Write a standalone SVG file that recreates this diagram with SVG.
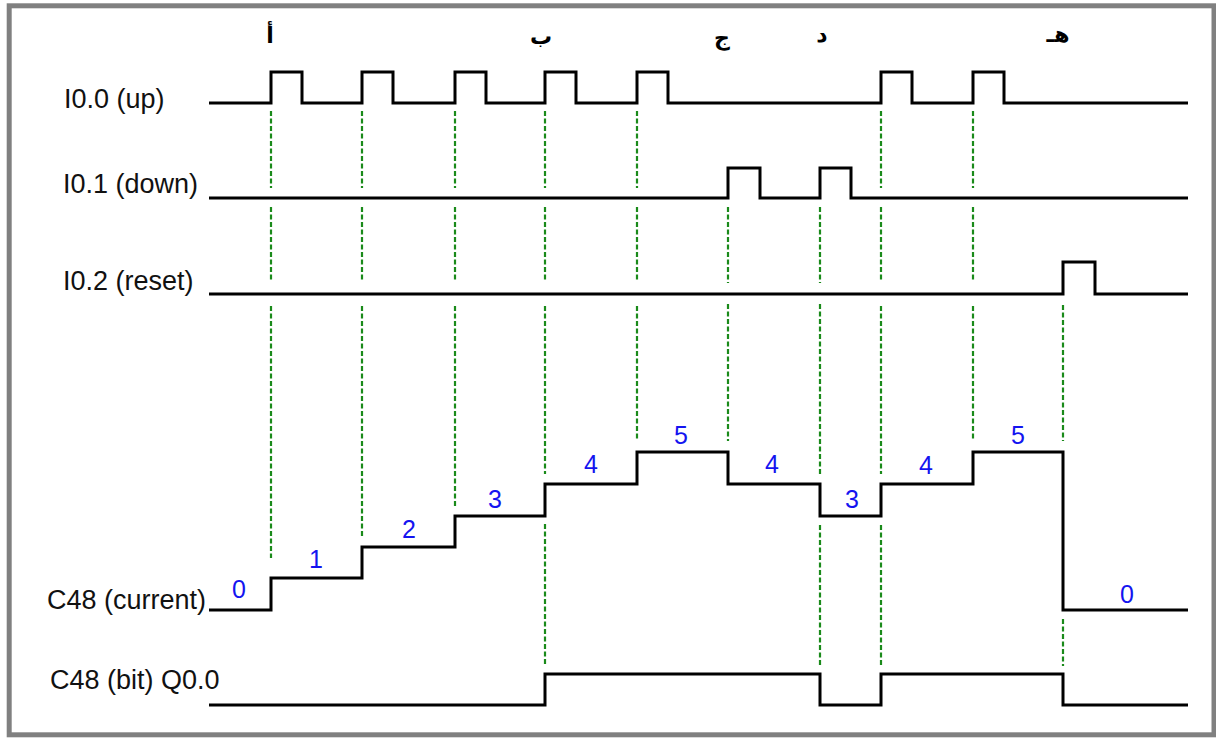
<svg xmlns="http://www.w3.org/2000/svg" width="1216" height="738" viewBox="0 0 1216 738">
<style>
.wave{fill:none;stroke:#000;stroke-width:3;stroke-linejoin:miter;stroke-linecap:butt}
.guide{fill:none;stroke:#1a8a1a;stroke-width:2.2;stroke-dasharray:5 2.5}
.lbl{font-family:"Liberation Sans",Arial,sans-serif;font-size:27px;fill:#111}
.num{font-family:"Liberation Sans",Arial,sans-serif;font-size:25px;fill:#1414f0;text-anchor:middle}
.ar{font-family:"DejaVu Sans","Noto Sans",sans-serif;font-size:22px;font-weight:bold;fill:#000;text-anchor:middle}
</style>
<rect x="0" y="0" width="1216" height="738" fill="#fff"/>
<rect x="9.2" y="5.8" width="1204.8" height="729" fill="#fff" stroke="#808080" stroke-width="5"/>

<g id="markers">
<text class="ar" x="270" y="43">أ</text>
<text class="ar" x="541" y="44">ب</text>
<text class="ar" x="722" y="45">ج</text>
<text class="ar" x="822" y="42">د</text>
<text class="ar" x="1058" y="42">هـ</text>
</g>

<g id="guides">
<path class="guide" d="M271 111V188M271 207V282M271 306V558"/>
<path class="guide" d="M362 111V188M362 207V282M362 306V538"/>
<path class="guide" d="M455 111V188M455 207V282M455 306V506"/>
<path class="guide" d="M545 111V188M545 207V282M545 306V474M545 524V666"/>
<path class="guide" d="M637 111V188M637 207V282M637 306V441"/>
<path class="guide" d="M728 207V283M728 304V441"/>
<path class="guide" d="M820 207V283M820 304V474M820 525V667"/>
<path class="guide" d="M881 111V188M881 207V282M881 306V474M881 525V667"/>
<path class="guide" d="M973 111V188M973 207V282M973 306V441"/>
<path class="guide" d="M1063 305V441M1063 619V666"/>
</g>

<g id="i00">
<text class="lbl" x="64" y="108">I0.0 (up)</text>
<path class="wave" d="M209 103H271V72H302V103H362V72H393V103H455V72H486V103H545V72H576V103H637V72H668V103H881V72H912V103H973V72H1004V103H1188"/>
</g>

<g id="i01">
<text class="lbl" x="63" y="193">I0.1 (down)</text>
<path class="wave" d="M209 198H728V168H760V198H820V168H851V198H1188"/>
</g>

<g id="i02">
<text class="lbl" x="63" y="290">I0.2 (reset)</text>
<path class="wave" d="M209 294H1063V262H1095V294H1188"/>
</g>

<g id="c48cur">
<text class="lbl" x="47" y="609">C48 (current)</text>
<path class="wave" d="M209 610H271V578H362V547H455V516H545V484H637V452H728V484H820V516H881V484H973V452H1063V610H1188"/>
<text class="num" x="239" y="598">0</text>
<text class="num" x="316" y="568">1</text>
<text class="num" x="409" y="538">2</text>
<text class="num" x="495" y="508">3</text>
<text class="num" x="591" y="473">4</text>
<text class="num" x="681" y="444">5</text>
<text class="num" x="772" y="473">4</text>
<text class="num" x="852" y="508">3</text>
<text class="num" x="926" y="474">4</text>
<text class="num" x="1018" y="444">5</text>
<text class="num" x="1127" y="603">0</text>
</g>

<g id="c48bit">
<text class="lbl" x="50" y="689">C48 (bit) Q0.0</text>
<path class="wave" d="M209 705H545V674H820V705H881V674H1063V705H1188"/>
</g>
</svg>
